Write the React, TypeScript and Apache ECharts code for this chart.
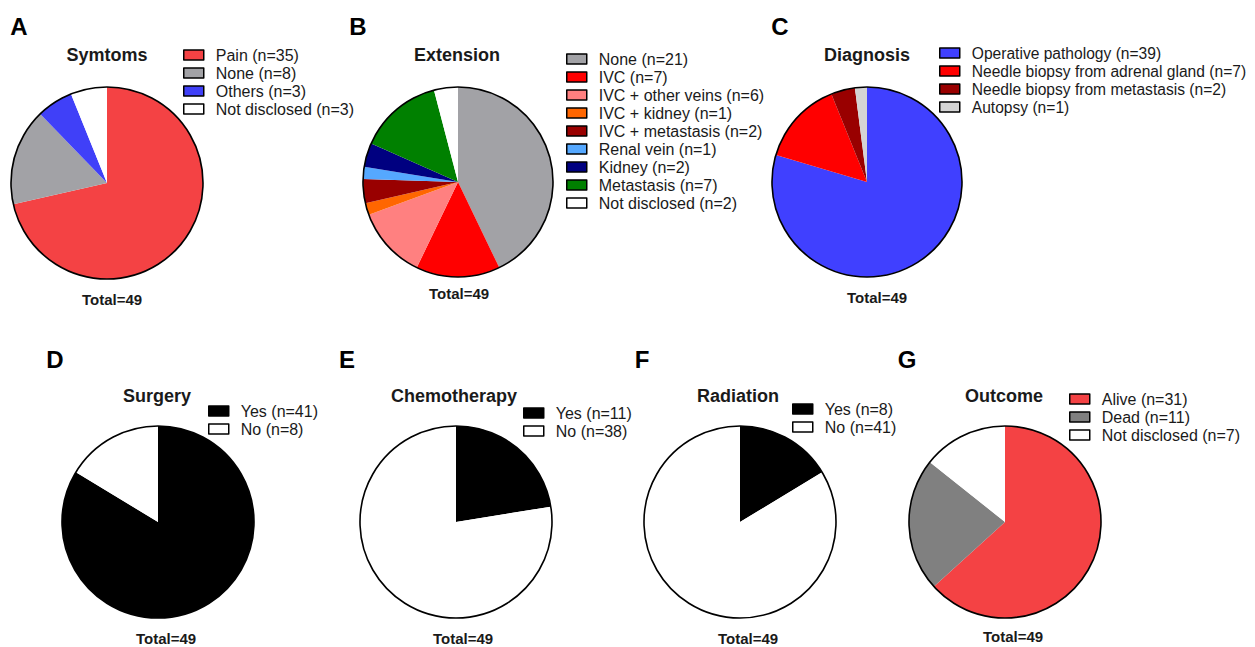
import React, { useEffect, useRef } from 'react';
import * as echarts from 'echarts';

// ---------- data ----------
const symptomCategories = ['Pain', 'None', 'Others', 'Not disclosed'];
const symptomValues = [35, 8, 3, 3];

const extensionCategories = [
  'None',
  'IVC',
  'IVC + other veins',
  'IVC + kidney',
  'IVC + metastasis',
  'Renal vein',
  'Kidney',
  'Metastasis',
  'Not disclosed',
];
const extensionValues = [21, 7, 6, 1, 2, 1, 2, 7, 2];

const diagnosisCategories = [
  'Operative pathology',
  'Needle biopsy from adrenal gland',
  'Needle biopsy from metastasis',
  'Autopsy',
];
const diagnosisValues = [39, 7, 2, 1];

const surgeryCategories = ['Yes', 'No'];
const surgeryValues = [41, 8];

const chemoCategories = ['Yes', 'No'];
const chemoValues = [11, 38];

const radiationCategories = ['Yes', 'No'];
const radiationValues = [8, 41];

const outcomeCategories = ['Alive', 'Dead', 'Not disclosed'];
const outcomeValues = [31, 11, 7];

// ---------- styles ----------
const FONT = '"Liberation Sans", Arial, Helvetica, sans-serif';
const symptomColors = ['#F44244', '#A2A2A6', '#4040F8', '#FFFFFF'];
const extensionColors = ['#A2A2A6', '#FF0000', '#FF8080', '#FF6600', '#990000', '#55A8FF', '#000080', '#008000', '#FFFFFF'];
const diagnosisColors = ['#4040FF', '#FF0000', '#990000', '#D4D4D4'];
const yesNoColors = ['#000000', '#FFFFFF'];
const outcomeColors = ['#F44244', '#808080', '#FFFFFF'];

interface Panel {
  letter: string;
  title: string;
  cats: string[];
  vals: number[];
  colors: string[];
  letterPos: [number, number];
  titlePos: [number, number];
  center: [number, number];
  r: number;
  legendPos: [number, number];
  legendFont: number;
  totalPos: [number, number];
}

const panels: Panel[] = [
  { letter: 'A', title: 'Symtoms', cats: symptomCategories, vals: symptomValues, colors: symptomColors,
    letterPos: [19, 26], titlePos: [107, 55], center: [107, 183], r: 96, legendPos: [183, 46], legendFont: 16, totalPos: [112, 299] },
  { letter: 'B', title: 'Extension', cats: extensionCategories, vals: extensionValues, colors: extensionColors,
    letterPos: [358, 26], titlePos: [457, 55], center: [458, 182], r: 95, legendPos: [566, 50], legendFont: 16, totalPos: [459, 293] },
  { letter: 'C', title: 'Diagnosis', cats: diagnosisCategories, vals: diagnosisValues, colors: diagnosisColors,
    letterPos: [780, 26], titlePos: [867, 55], center: [867, 182], r: 95, legendPos: [939, 44], legendFont: 15.6, totalPos: [877, 297] },
  { letter: 'D', title: 'Surgery', cats: surgeryCategories, vals: surgeryValues, colors: yesNoColors,
    letterPos: [55, 359], titlePos: [157, 396], center: [158, 522], r: 96, legendPos: [208, 402], legendFont: 16, totalPos: [166, 638] },
  { letter: 'E', title: 'Chemotherapy', cats: chemoCategories, vals: chemoValues, colors: yesNoColors,
    letterPos: [347, 359], titlePos: [454, 396], center: [456, 522], r: 96, legendPos: [523, 404], legendFont: 16, totalPos: [463, 638] },
  { letter: 'F', title: 'Radiation', cats: radiationCategories, vals: radiationValues, colors: yesNoColors,
    letterPos: [642, 359], titlePos: [738, 396], center: [740, 522], r: 96, legendPos: [792, 400], legendFont: 16, totalPos: [748, 638] },
  { letter: 'G', title: 'Outcome', cats: outcomeCategories, vals: outcomeValues, colors: outcomeColors,
    letterPos: [907, 359], titlePos: [1004, 396], center: [1005, 522], r: 96, legendPos: [1069, 390], legendFont: 16, totalPos: [1013, 636] },
];

const nameOf = (c: string, v: number) => `${c} (n=${v})`;

function buildOption(): any {
  const series: any[] = [];
  const legend: any[] = [];
  const graphic: any[] = [];

  panels.forEach((p, idx) => {
    const names = p.cats.map((c, i) => nameOf(c, p.vals[i]));
    series.push({
      type: 'pie',
      id: 'pie' + idx,
      center: p.center,
      radius: p.r,
      startAngle: 90,
      clockwise: true,
      avoidLabelOverlap: false,
      label: { show: false },
      labelLine: { show: false },
      emphasis: { disabled: true },
      itemStyle: { borderWidth: 0 },
      data: names.map((n, i) => ({ name: n, value: p.vals[i], itemStyle: { color: p.colors[i] } })),
    });
    series.push({
      type: 'pie',
      id: 'outline' + idx,
      center: p.center,
      radius: p.r,
      silent: true,
      label: { show: false },
      labelLine: { show: false },
      emphasis: { disabled: true },
      itemStyle: { color: 'rgba(0,0,0,0)', borderColor: '#000', borderWidth: 1.6 },
      data: [{ value: 1, name: 'outline' + idx }],
    });
    legend.push({
      data: names,
      orient: 'vertical',
      left: p.legendPos[0],
      top: p.legendPos[1],
      padding: 0,
      itemWidth: 20,
      itemHeight: 10,
      itemGap: 0,
      icon: 'rect',
      selectedMode: false,
      itemStyle: { borderColor: '#000', borderWidth: 1.5 },
      textStyle: { fontFamily: FONT, fontSize: p.legendFont, color: '#1a1a1a', lineHeight: 18, padding: [0, 0, 0, 7] },
    });
    const total = p.vals.reduce((a, b) => a + b, 0);
    graphic.push(
      { type: 'text', x: p.letterPos[0], y: p.letterPos[1],
        style: { text: p.letter, font: `bold 24px ${FONT}`, fill: '#000', align: 'center', verticalAlign: 'middle' } },
      { type: 'text', x: p.titlePos[0], y: p.titlePos[1],
        style: { text: p.title, font: `bold 18px ${FONT}`, fill: '#1a1a1a', align: 'center', verticalAlign: 'middle' } },
      { type: 'text', x: p.totalPos[0], y: p.totalPos[1],
        style: { text: `Total=${total}`, font: `bold 15px ${FONT}`, fill: '#1a1a1a', align: 'center', verticalAlign: 'middle' } },
    );
  });

  return {
    animation: false,
    backgroundColor: '#ffffff',
    tooltip: { show: false },
    legend,
    series,
    graphic,
  };
}

export default function App() {
  const ref = useRef<HTMLDivElement>(null);
  useEffect(() => {
    if (!ref.current) return;
    const chart = echarts.init(ref.current, undefined, { renderer: 'svg' });
    chart.setOption(buildOption());
    return () => chart.dispose();
  }, []);
  return (
    <div
      ref={ref}
      style={{ position: 'fixed', left: -8, top: -8, width: 1255, height: 647, background: '#fff' }}
    />
  );
}
